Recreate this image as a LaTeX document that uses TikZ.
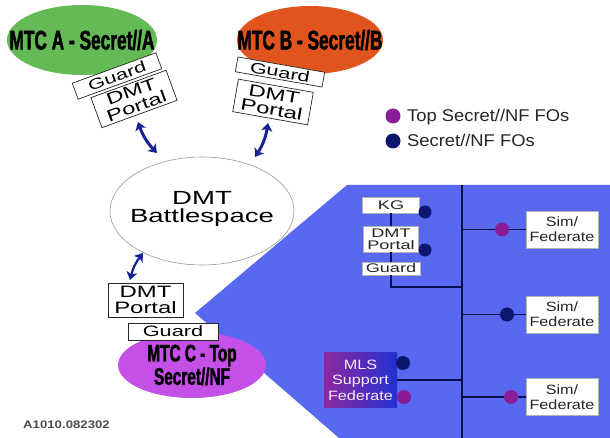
\documentclass[tikz,border=0pt]{standalone}
\usepackage{fontspec}
\setmainfont{Liberation Sans}
\newfontfamily\wfont{Liberation Sans}[FakeStretch=1.45]
\newfontfamily\mfont{Liberation Sans}[FakeStretch=1.2]
\newfontfamily\lfont{Liberation Sans}[FakeStretch=1.08]
\newfontfamily\cfont{Liberation Sans}[FakeStretch=0.64,FakeBold=1.5]
\usetikzlibrary{arrows.meta,shapes.geometric}
\definecolor{bluebg}{RGB}{88,104,240}
\definecolor{greenA}{RGB}{100,186,84}
\definecolor{orangeB}{RGB}{226,84,30}
\definecolor{purpC}{RGB}{196,80,232}
\definecolor{navy}{RGB}{12,22,110}
\definecolor{plum}{RGB}{138,28,150}
\definecolor{arrowblue}{RGB}{24,36,150}
\definecolor{mlsL}{RGB}{140,40,160}
\definecolor{mlsR}{RGB}{34,48,210}
\tikzset{
  mtc/.style={ellipse, inner sep=0pt},
  mtclabel/.style={inner sep=0pt, align=center, font=\cfont\bfseries\fontsize{27}{27}\selectfont},
  wbox/.style={draw=black!85, fill=white, line width=0.7pt, inner sep=0pt, align=center},
  gtext/.style={font=\wfont\fontsize{15}{15}\selectfont},
  ptext/.style={font=\wfont\fontsize{16.5}{15.5}\selectfont},
  sbox/.style={draw=gray!60, fill=white, line width=0.5pt, inner sep=0pt, align=center, text=black!85},
  simbox/.style={sbox, minimum width=72pt, minimum height=37pt, font=\mfont\fontsize{13.5}{15}\selectfont},
  dot/.style={circle, inner sep=0pt, minimum size=14pt},
  dbl/.style={draw=arrowblue, line width=3pt, {Stealth[length=8pt,width=11pt,inset=2pt]}-{Stealth[length=8pt,width=11pt,inset=2pt]}},
  busline/.style={draw=navy!70!black, line width=1.8pt}
}
\begin{document}
\begin{tikzpicture}[x=1pt,y=-1pt]
\useasboundingbox (0,0) rectangle (610,438);
\fill[white] (0,0) rectangle (610,438);
% blue area
\fill[bluebg] (347,185) -- (610,185) -- (610,438) -- (339,438) -- (195,313) -- cycle;

% MTC ellipses
\node[mtc, fill=greenA, minimum width=150pt, minimum height=70pt] (mtcA) at (82,40) {};
\node[mtclabel] (mtcAl) at (mtcA.center) {MTC A - Secret//A};
\node[mtc, fill=orangeB, minimum width=146pt, minimum height=68pt] (mtcB) at (310,40) {};
\node[mtclabel] (mtcBl) at (mtcB.center) {MTC B - Secret//B};

% A boxes
\node[wbox, gtext, minimum width=89pt, minimum height=17pt, rotate=20] (guardA) at (117,76) {Guard};
\node[wbox, ptext, minimum width=80pt, minimum height=32pt, rotate=20] (portalA) at (134,99) {DMT\\Portal};
% B boxes
\node[wbox, gtext, minimum width=88pt, minimum height=15pt, rotate=-10] (guardB) at (280,72) {Guard};
\node[wbox, ptext, minimum width=76pt, minimum height=33pt, rotate=-10] (portalB) at (273,102) {DMT\\Portal};

% Battlespace
\node[ellipse, draw=gray!80, line width=0.6pt, fill=white, minimum width=184pt, minimum height=108pt, inner sep=0pt] (bs) at (202,211) {};
\node[inner sep=0pt, align=center, font=\wfont\fontsize{19}{18}\selectfont] (bsl) at (202,209) {DMT\\Battlespace};

% arrows
\coordinate (aA1) at (138,122); \coordinate (aA2) at (157,153);
\coordinate (aB1) at (268,123); \coordinate (aB2) at (255,157);
\coordinate (aC1) at (143,253); \coordinate (aC2) at (130,280);
\draw[dbl] (aA1) to[bend right=12] (aA2);
\draw[dbl] (aB1) to[bend left=12] (aB2);
\draw[dbl, line width=2.2pt] (aC1) to[bend right=12] (aC2);

% C
\node[mtc, fill=purpC, minimum width=148pt, minimum height=66pt] (mtcC) at (192,365) {};
\node[mtclabel, font=\cfont\bfseries\fontsize{24}{22}\selectfont] (mtcCl) at (mtcC.center) {MTC C - Top\\Secret//NF};
\node[wbox, ptext, minimum width=75pt, minimum height=34pt] (portalC) at (145.5,300) {DMT\\Portal};
\node[wbox, gtext, minimum width=90pt, minimum height=17pt] (guardC) at (173,331.5) {Guard};

% bus
\coordinate (busTop) at (462,185);
\coordinate (busBot) at (462,438);
\draw[busline] (busTop) -- (busBot);

% KG / Portal / Guard stack
\coordinate (busG) at (462,287);
\node[sbox, minimum width=57pt, minimum height=16pt, font=\wfont\fontsize{12.5}{12.5}\selectfont] (kg) at (391,205) {KG};
\node[sbox, minimum width=55pt, minimum height=26pt, font=\wfont\fontsize{12.5}{12}\selectfont] (portal2) at (391,239) {DMT\\Portal};
\node[sbox, minimum width=58pt, minimum height=13pt, font=\wfont\fontsize{12.5}{12.5}\selectfont] (guard2) at (391,268.5) {Guard};
\draw[busline] (kg.south) -- (portal2.north);
\draw[busline] (portal2.south) -- (guard2.north);
\draw[busline] (guard2.south) |- (busG);
\node[dot, fill=navy, minimum size=13pt] (kgd) at (425,212) {};
\node[dot, fill=navy, minimum size=13pt] (pd) at (425,250) {};

% Sim / Federate
\node[simbox] (sim1) at (562,229.5) {Sim/\\Federate};
\node[simbox] (sim2) at (562,314.5) {Sim/\\Federate};
\node[simbox] (sim3) at (562,397) {Sim/\\Federate};
\draw[busline] (sim1.west -| busTop) -- (sim1.west);
\draw[busline] (sim2.west -| busTop) -- (sim2.west);
\draw[busline] (sim3.west -| busTop) -- (sim3.west);
\node[dot, fill=plum] (sd1) at (502,229.5) {};
\node[dot, fill=navy] (sd2) at (507,314.5) {};
\node[dot, fill=plum] (sd3) at (511,397) {};

% MLS
\node[left color=mlsL, right color=mlsR, minimum width=73pt, minimum height=55pt, inner sep=0pt, align=center, text=white!92!purple, font=\mfont\fontsize{13.5}{15.5}\selectfont] (mls) at (360.5,380) {MLS\\Support\\Federate};
\draw[busline] (mls.east) -- (mls.east -| busTop);
\node[dot, fill=navy] (md1) at (403,363) {};
\node[dot, fill=plum] (md2) at (404,397) {};

% legend
\node[dot, fill=plum, minimum size=15pt] (legP) at (393,116) {};
\node[anchor=base west, inner sep=0pt, font=\lfont\fontsize{17}{17}\selectfont, text=black!85] (legPt) at (407,122) {Top Secret//NF FOs};
\node[dot, fill=navy, minimum size=15pt] (legN) at (393,141) {};
\node[anchor=base west, inner sep=0pt, font=\lfont\fontsize{17}{17}\selectfont, text=black!85] (legNt) at (407,146.5) {Secret//NF FOs};

% footer
\node[anchor=base west, inner sep=0pt, font=\mfont\bfseries\fontsize{11}{11}\selectfont, text=black!70] (foot) at (23,428) {A1010.082302};
\end{tikzpicture}
\end{document}
